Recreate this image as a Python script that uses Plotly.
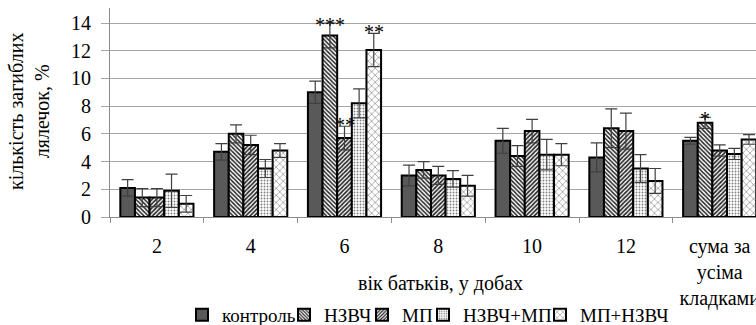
import plotly.graph_objects as go

# ---- data ----
categories = ["2", "4", "6", "8", "10", "12", "сума за<br>усіма<br>кладками"]
series_names = ["контроль", "НЗВЧ", "МП", "НЗВЧ+МП", "МП+НЗВЧ"]

control = [2.1, 4.7, 9.0, 3.0, 5.5, 4.3, 5.5]
control_err = [0.6, 0.6, 0.8, 0.75, 0.9, 1.05, 0.25]
nzvch = [1.4, 6.0, 13.1, 3.4, 4.4, 6.4, 6.8]
nzvch_err = [0.65, 0.65, 0.9, 0.6, 0.75, 1.4, 0.4]
mp = [1.4, 5.2, 5.7, 3.0, 6.2, 6.2, 4.8]
mp_err = [0.65, 0.7, 0.85, 0.65, 0.85, 1.3, 0.4]
nzvch_mp = [1.9, 3.5, 8.2, 2.75, 4.5, 3.5, 4.55]
nzvch_mp_err = [1.2, 0.65, 1.05, 0.6, 1.1, 1.0, 0.4]
mp_nzvch = [0.95, 4.8, 12.05, 2.25, 4.5, 2.6, 5.6]
mp_nzvch_err = [0.6, 0.5, 1.2, 0.75, 0.8, 0.9, 0.35]

values = [control, nzvch, mp, nzvch_mp, mp_nzvch]
errors = [control_err, nzvch_err, mp_err, nzvch_mp_err, mp_nzvch_err]

# significance marks: (category index, series index, label)
significance = [(2, 1, "***"), (2, 2, "**"), (2, 4, "**"), (6, 1, "*")]

y_ticks = [0, 2, 4, 6, 8, 10, 12, 14]

# ---- styling ----
FONT = "Liberation Serif"
W, H = 756, 325
BARGAP = 0.22
MARGIN = dict(l=110, r=0, t=8, b=108)
PLOT_W = W - MARGIN["l"] - MARGIN["r"]
PLOT_H = H - MARGIN["t"] - MARGIN["b"]
CAT_PX = 93.8      # pixel width of one category slot
UNIT_PX = 13.857   # pixels per y unit

patterns = [
    dict(shape="", fillmode="replace"),
    dict(shape="\\", size=3, solidity=0.5, fgcolor="#262626", bgcolor="white", fillmode="replace"),
    dict(shape="/", size=3, solidity=0.55, fgcolor="#262626", bgcolor="white", fillmode="replace"),
    dict(shape=".", size=3, solidity=0.3, fgcolor="#808080", bgcolor="white", fillmode="replace"),
    dict(shape="x", size=5, solidity=0.25, fgcolor="#8c8c8c", bgcolor="white", fillmode="replace"),
]
fills = ["#595959", "white", "white", "white", "white"]
star_shift = {(2, 1): -15, (2, 2): -12, (2, 4): -12, (6, 1): -15}

# left edge (px) of each legend entry
legend_left = [182, 284, 362, 423, 540]
legend_names = ["legend", "legend2", "legend3", "legend4", "legend5"]


def px_to_paper_x(px):
    return (px - MARGIN["l"]) / PLOT_W


def px_to_paper_y(py):
    return (H - MARGIN["b"] - py) / PLOT_H


fig = go.Figure()
for i, name in enumerate(series_names):
    fig.add_trace(go.Bar(
        x=categories,
        y=values[i],
        name=name,
        marker=dict(color=fills[i], pattern=patterns[i],
                    line=dict(color="black", width=2)),
        error_y=dict(type="data", array=errors[i], color="#404040",
                     thickness=1.2, width=6),
        legend=legend_names[i],
    ))

bar_w = (1 - BARGAP) / len(series_names)
annotations = []
for cat, s, label in significance:
    annotations.append(dict(
        x=cat + (s - (len(series_names) - 1) / 2) * bar_w,
        y=values[s][cat] + errors[s][cat],
        xref="x", yref="y", text=label, showarrow=False,
        yanchor="bottom", yshift=star_shift[(cat, s)],
        font=dict(family=FONT, size=20, color="black"),
    ))

annotations.append(dict(
    x=px_to_paper_x(440), y=px_to_paper_y(283), xref="paper", yref="paper",
    text="вік батьків, у добах", showarrow=False,
    xanchor="center", yanchor="middle",
    font=dict(family=FONT, size=20, color="black"),
))
annotations.append(dict(
    x=px_to_paper_x(29), y=px_to_paper_y(112), xref="paper", yref="paper",
    text="кількість загиблих<br>лялечок, %", showarrow=False, textangle=-90,
    xanchor="center", yanchor="middle",
    font=dict(family=FONT, size=20, color="black"),
))

legends = {}
for i, lname in enumerate(legend_names):
    legends[lname] = dict(
        x=legend_left[i] / W, xref="container", xanchor="left",
        y=1 - 315 / H, yref="container", yanchor="middle",
        orientation="h", bgcolor="rgba(0,0,0,0)",
        font=dict(family=FONT, size=19, color="black"),
    )

fig.update_layout(
    width=W, height=H,
    margin=MARGIN,
    paper_bgcolor="white", plot_bgcolor="white",
    barmode="group", bargap=BARGAP, bargroupgap=0,
    font=dict(family=FONT, size=20, color="black"),
    annotations=annotations,
    showlegend=True,
    **legends,
)
fig.update_xaxes(
    type="category", range=[-0.5, -0.5 + PLOT_W / CAT_PX],
    tickson="boundaries", ticks="outside", ticklen=5, tickcolor="#8c8c8c",
    showline=True, linecolor="#8c8c8c", linewidth=1,
    showgrid=False, ticklabelstandoff=11, automargin=False,
    tickfont=dict(family=FONT, size=20, color="black"),
)
fig.update_yaxes(
    range=[0, PLOT_H / UNIT_PX],
    tickvals=y_ticks, ticks="outside", ticklen=8, tickcolor="#a6a6a6",
    showline=True, linecolor="#8c8c8c", linewidth=1,
    showgrid=True, gridcolor="#a6a6a6", gridwidth=1,
    zeroline=False, ticklabelstandoff=6, automargin=False,
    tickfont=dict(family=FONT, size=20, color="black"),
)

fig.write_html("out.html")
